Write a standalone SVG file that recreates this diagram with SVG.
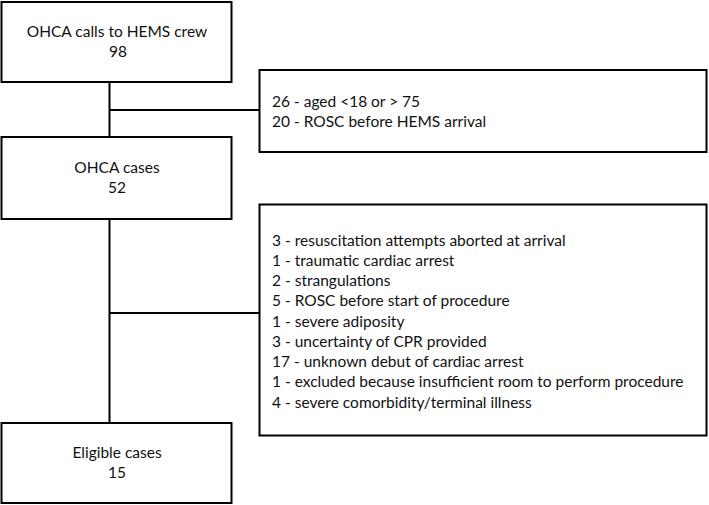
<svg xmlns="http://www.w3.org/2000/svg" width="709" height="505" viewBox="0 0 709 505">
<style>
.box{fill:#fff;stroke:#000;stroke-width:2}
.ln{fill:none;stroke:#000;stroke-width:2}
text{font-family:Lato,"Open Sans","Liberation Sans",sans-serif;font-size:15.5px;fill:#111}
.c{text-anchor:middle}
</style>
<rect width="709" height="505" fill="#fff"/>
<g id="connectors">
<path class="ln" d="M109.5,82 V137 M109.5,110 H259.5 M109.5,219 V423 M109.5,313 H259.5"/>
</g>
<g id="calls">
<rect class="box" x="1.5" y="2" width="230" height="80"/>
<text class="c" x="117" y="37">OHCA calls to HEMS crew</text>
<text class="c" x="118" y="57">98</text>
</g>
<g id="excl1">
<rect class="box" x="259.5" y="70" width="447" height="82"/>
<text x="272" y="107">26 - aged &lt;18 or &gt; 75</text>
<text x="272" y="127">20 - ROSC before HEMS arrival</text>
</g>
<g id="cases">
<rect class="box" x="1.5" y="137" width="230" height="82"/>
<text class="c" x="117" y="173">OHCA cases</text>
<text class="c" x="117" y="193">52</text>
</g>
<g id="excl2">
<rect class="box" x="259.5" y="204.5" width="447" height="231"/>
<text x="272" y="245.5">3 - resuscitation attempts aborted at arrival</text>
<text x="272" y="265.8">1 - traumatic cardiac arrest</text>
<text x="272" y="286">2 - strangulations</text>
<text x="272" y="306.3">5 - ROSC before start of procedure</text>
<text x="272" y="326.5">1 - severe adiposity</text>
<text x="272" y="346.8">3 - uncertainty of CPR provided</text>
<text x="272" y="367">17 - unknown debut of cardiac arrest</text>
<text x="272" y="387.3">1 - excluded because insufficient room to perform procedure</text>
<text x="272" y="407.5">4 - severe comorbidity/terminal illness</text>
</g>
<g id="eligible">
<rect class="box" x="1.5" y="423" width="230" height="80"/>
<text class="c" x="117" y="458">Eligible cases</text>
<text class="c" x="117" y="478">15</text>
</g>
</svg>
